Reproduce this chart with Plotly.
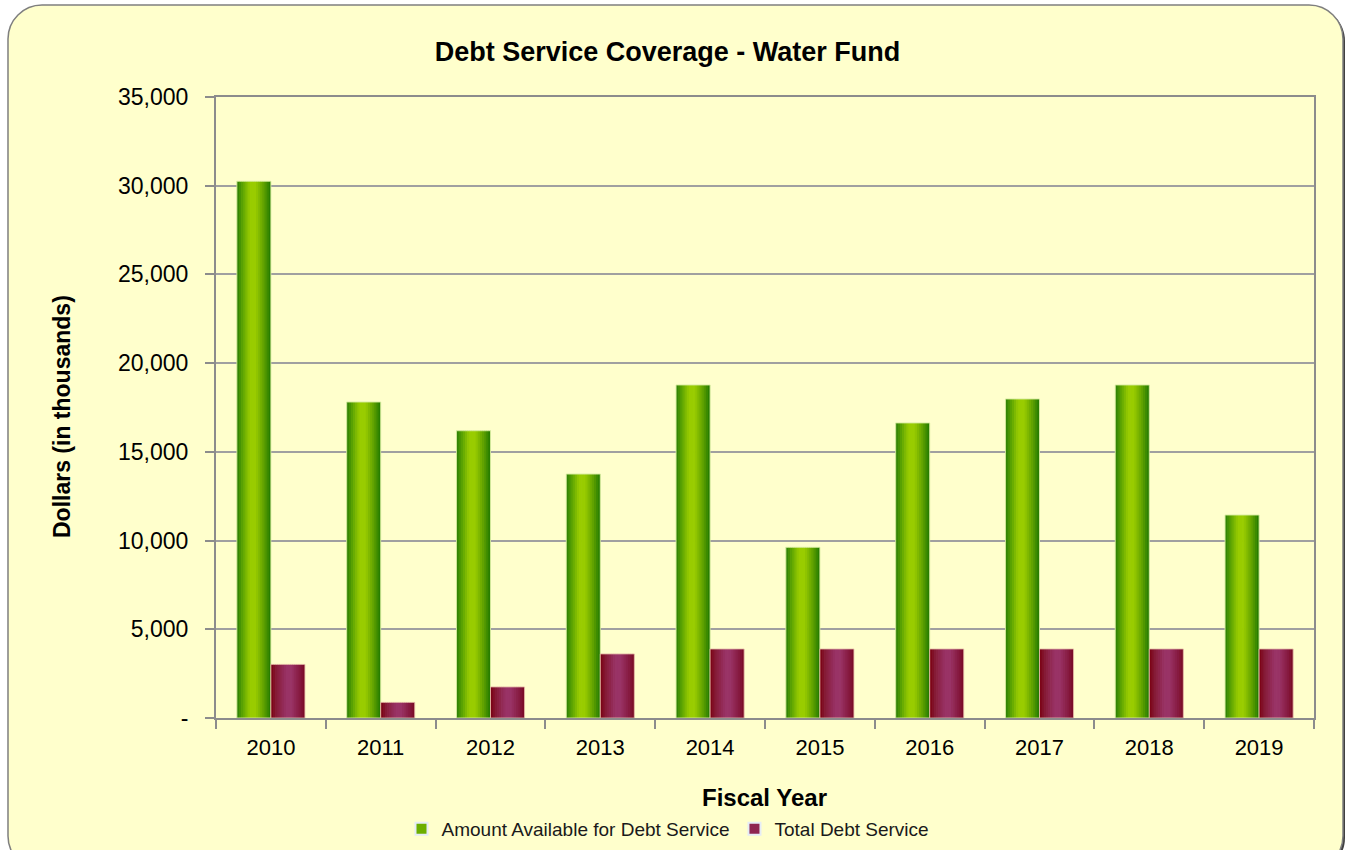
import plotly.graph_objects as go

# ---------------- data ----------------
years = ["2010", "2011", "2012", "2013", "2014", "2015", "2016", "2017", "2018", "2019"]
amount_available = [30250, 17810, 16190, 13750, 18770, 9620, 16630, 17980, 18770, 11440]
total_debt_service = [3020, 880, 1750, 3610, 3890, 3890, 3890, 3890, 3890, 3890]
y_tickvals = [0, 5000, 10000, 15000, 20000, 25000, 30000, 35000]
y_ticktext = ["-", "5,000", "10,000", "15,000", "20,000", "25,000", "30,000", "35,000"]

title_text = "Debt Service Coverage - Water Fund"
y_title = "Dollars (in thousands)"
x_title = "Fiscal Year"
name_available = "Amount Available for Debt Service"
name_total = "Total Debt Service"

# ---------------- layout geometry (pixels) ----------------
W, H = 1346, 850
L, R, T, B = 216, 1314, 97, 718
PW, PH = R - L, B - T


def px(x):
    return (x - L) / PW


def py(y):
    return (B - y) / PH


FONT = "Arial, Liberation Sans, sans-serif"


def hex2rgb(h):
    h = h.lstrip("#")
    return tuple(int(h[i:i + 2], 16) for i in (0, 2, 4))


def gradient(stops, t):
    for (t0, c0), (t1, c1) in zip(stops[:-1], stops[1:]):
        if t0 <= t <= t1:
            f = 0 if t1 == t0 else (t - t0) / (t1 - t0)
            a, b = hex2rgb(c0), hex2rgb(c1)
            return "rgb(%d,%d,%d)" % tuple(round(a[i] + (b[i] - a[i]) * f) for i in range(3))
    return stops[-1][1]


green_stops = [(0.0, "#2A7D06"), (0.12, "#4E9A04"), (0.38, "#99CC00"), (0.55, "#99CC00"),
               (0.8, "#5EA000"), (1.0, "#1E7800")]
maroon_stops = [(0.0, "#7A0010"), (0.15, "#851A35"), (0.45, "#993366"), (0.6, "#993366"),
                (0.85, "#86193F"), (1.0, "#780A22")]

BAR_W = 0.31
N = 16

fig = go.Figure()


def add_gradient_bars(values, start, stops, name, legend_color, outline):
    step = BAR_W / N
    for i in range(N):
        t = (i + 0.5) / N
        w = step * 1.35 if i < N - 1 else step
        fig.add_trace(go.Bar(
            x=years, y=values, offset=start + i * step, width=w,
            marker=dict(color=gradient(stops, t), line=dict(width=0)),
            showlegend=False, hoverinfo="skip", legendgroup=name,
        ))
    fig.add_trace(go.Bar(
        x=years, y=values, offset=start, width=BAR_W,
        marker=dict(color="rgba(0,0,0,0)", line=dict(color=outline, width=1)),
        name=name, showlegend=False, hoverinfo="skip", legendgroup=name,
    ))
    # legend entry
    fig.add_trace(go.Bar(
        x=[years[0]], y=[None], name=name, marker=dict(color=legend_color),
        showlegend=True, legendgroup=name, hoverinfo="skip",
    ))


add_gradient_bars(amount_available, -BAR_W, green_stops, name_available, "#6CAE00",
                  "rgba(215,235,160,0.9)")
add_gradient_bars(total_debt_service, 0.0, maroon_stops, name_total, "#8E2450",
                  "rgba(230,190,170,0.8)")

# ---------------- rounded background frame ----------------
def rounded_rect(x0, y0, x1, y1, r):
    k = 0.5523 * r

    def P(x, y):
        return "%.5f,%.5f" % (px(x), py(y))
    d = "M" + P(x0 + r, y0)
    d += " L" + P(x1 - r, y0)
    d += " C" + P(x1 - r + k, y0) + " " + P(x1, y0 + r - k) + " " + P(x1, y0 + r)
    d += " L" + P(x1, y1 - r)
    d += " C" + P(x1, y1 - r + k) + " " + P(x1 - r + k, y1) + " " + P(x1 - r, y1)
    d += " L" + P(x0 + r, y1)
    d += " C" + P(x0 + r - k, y1) + " " + P(x0, y1 - r + k) + " " + P(x0, y1 - r)
    d += " L" + P(x0, y0 + r)
    d += " C" + P(x0, y0 + r - k) + " " + P(x0 + r - k, y0) + " " + P(x0 + r, y0)
    d += " Z"
    return d


shapes = [
    dict(type="path", xref="paper", yref="paper", layer="below",
         path=rounded_rect(10, 7, 1345, 872, 34),
         fillcolor="#404040", line=dict(width=0)),
    dict(type="path", xref="paper", yref="paper", layer="below",
         path=rounded_rect(8, 5, 1343, 870, 34),
         fillcolor="#FFFFCC", line=dict(color="#7F7F7F", width=1.5)),
]

annotations = [
    dict(text="<b>" + y_title + "</b>", xref="paper", yref="paper",
         x=px(62), y=py(417), xanchor="center", yanchor="middle", textangle=-90,
         showarrow=False, font=dict(family=FONT, size=23, color="#000000")),
    dict(text="<b>" + x_title + "</b>", xref="paper", yref="paper",
         x=px(764), y=py(797), xanchor="center", yanchor="middle",
         showarrow=False, font=dict(family=FONT, size=24, color="#000000")),
]

fig.update_layout(
    width=W, height=H,
    margin=dict(l=L, r=W - R, t=T, b=H - B, pad=0),
    paper_bgcolor="#FFFFFF",
    plot_bgcolor="rgba(0,0,0,0)",
    barmode="overlay",
    title=dict(text="<b>" + title_text + "</b>", xref="container", yref="container",
               x=667.5 / W, y=1 - 52 / H, xanchor="center", yanchor="middle",
               font=dict(family=FONT, size=27, color="#000000")),
    font=dict(family=FONT, color="#000000"),
    shapes=shapes,
    annotations=annotations,
    showlegend=True,
    legend=dict(orientation="h", xref="container", yref="container",
                x=668 / W, y=1 - 829 / H, xanchor="center", yanchor="middle",
                font=dict(family=FONT, size=19, color="#1A1A1A"),
                bgcolor="rgba(0,0,0,0)", itemclick=False, itemdoubleclick=False,
                traceorder="normal", itemsizing="constant", tracegroupgap=0),
    xaxis=dict(
        type="category", range=[-0.5, 9.5],
        showline=True, linecolor="#8C8C8C", linewidth=2, mirror=True,
        ticks="outside", tickson="boundaries", ticklen=9, tickwidth=2, tickcolor="#8C8C8C",
        ticklabelstandoff=9,
        tickfont=dict(family=FONT, size=22, color="#000000"),
        showgrid=False, zeroline=False, fixedrange=True,
    ),
    yaxis=dict(
        range=[0, 35000], tickvals=y_tickvals, ticktext=y_ticktext,
        showline=True, linecolor="#8C8C8C", linewidth=2, mirror=True,
        ticks="outside", ticklen=9, tickwidth=2, tickcolor="#8C8C8C",
        ticklabelstandoff=12,
        tickfont=dict(family=FONT, size=23, color="#000000"),
        showgrid=True, gridcolor="#A0A0A0", gridwidth=1.5, zeroline=False, fixedrange=True,
    ),
)

fig.write_html("out.html")
